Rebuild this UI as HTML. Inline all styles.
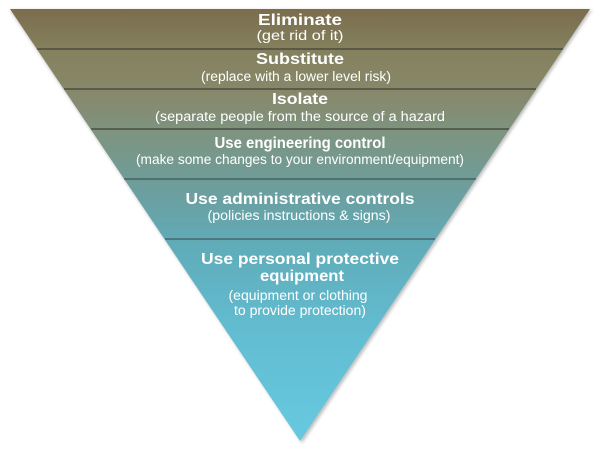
<!DOCTYPE html>
<html><head><style>
body{margin:0;background:#fff;width:600px;height:450px;overflow:hidden}
</style></head><body>
<svg width="600" height="450" xmlns="http://www.w3.org/2000/svg">
<defs>
<linearGradient id="g" x1="0" y1="9" x2="0" y2="441" gradientUnits="userSpaceOnUse">
<stop offset="0" stop-color="#7a6d4d"/>
<stop offset="0.1" stop-color="#85815e"/>
<stop offset="0.2" stop-color="#87896c"/>
<stop offset="0.3" stop-color="#7c9583"/>
<stop offset="0.42" stop-color="#6c9e9e"/>
<stop offset="0.55" stop-color="#60acb9"/>
<stop offset="0.75" stop-color="#62bdd2"/>
<stop offset="1" stop-color="#66c9e0"/>
</linearGradient>
<filter id="s" x="-5%" y="-5%" width="110%" height="110%"><feGaussianBlur stdDeviation="1.5"/></filter>
</defs>
<polygon points="10,10 592,10 302,443" fill="#000" opacity="0.25" filter="url(#s)"/>
<polygon points="10,9 590,9 300,441" fill="url(#g)"/>
<g stroke="#3f4238" stroke-width="1.2">
<line x1="37" y1="49" x2="563" y2="49"/>
<line x1="64" y1="89" x2="536" y2="89"/>
<line x1="91" y1="129" x2="509" y2="129"/>
<line x1="124" y1="179" x2="476" y2="179" stroke="#3f5552"/>
<line x1="165" y1="239" x2="435" y2="239" stroke="#3f5a60"/>
</g>
<g fill="#fff" font-family="Liberation Sans, sans-serif" text-anchor="middle" lengthAdjust="spacingAndGlyphs">
<g font-weight="bold" font-size="15.5">
<text x="300" y="25" textLength="84" lengthAdjust="spacingAndGlyphs">Eliminate</text>
<text x="300" y="64" textLength="88" lengthAdjust="spacingAndGlyphs">Substitute</text>
<text x="300" y="104" textLength="56" lengthAdjust="spacingAndGlyphs">Isolate</text>
<text x="300" y="148" textLength="171" lengthAdjust="spacingAndGlyphs">Use engineering control</text>
<text x="300" y="204" textLength="229" lengthAdjust="spacingAndGlyphs">Use administrative controls</text>
<text x="300" y="264" textLength="198" lengthAdjust="spacingAndGlyphs">Use personal protective</text>
<text x="302" y="281" textLength="84" lengthAdjust="spacingAndGlyphs">equipment</text>
</g>
<g font-size="13.5">
<text x="300" y="40" textLength="87" lengthAdjust="spacingAndGlyphs">(get rid of it)</text>
<text x="296" y="81" textLength="190" lengthAdjust="spacingAndGlyphs">(replace with a lower level risk)</text>
<text x="300" y="121" textLength="290" lengthAdjust="spacingAndGlyphs">(separate people from the source of a hazard</text>
<text x="300" y="164" textLength="328" lengthAdjust="spacingAndGlyphs">(make some changes to your environment/equipment)</text>
<text x="299" y="220" textLength="183" lengthAdjust="spacingAndGlyphs">(policies instructions &amp; signs)</text>
<text x="298" y="300" textLength="139" lengthAdjust="spacingAndGlyphs">(equipment or clothing</text>
<text x="300" y="315" textLength="132" lengthAdjust="spacingAndGlyphs">to provide protection)</text>
</g>
</g>
</svg>
</body></html>
